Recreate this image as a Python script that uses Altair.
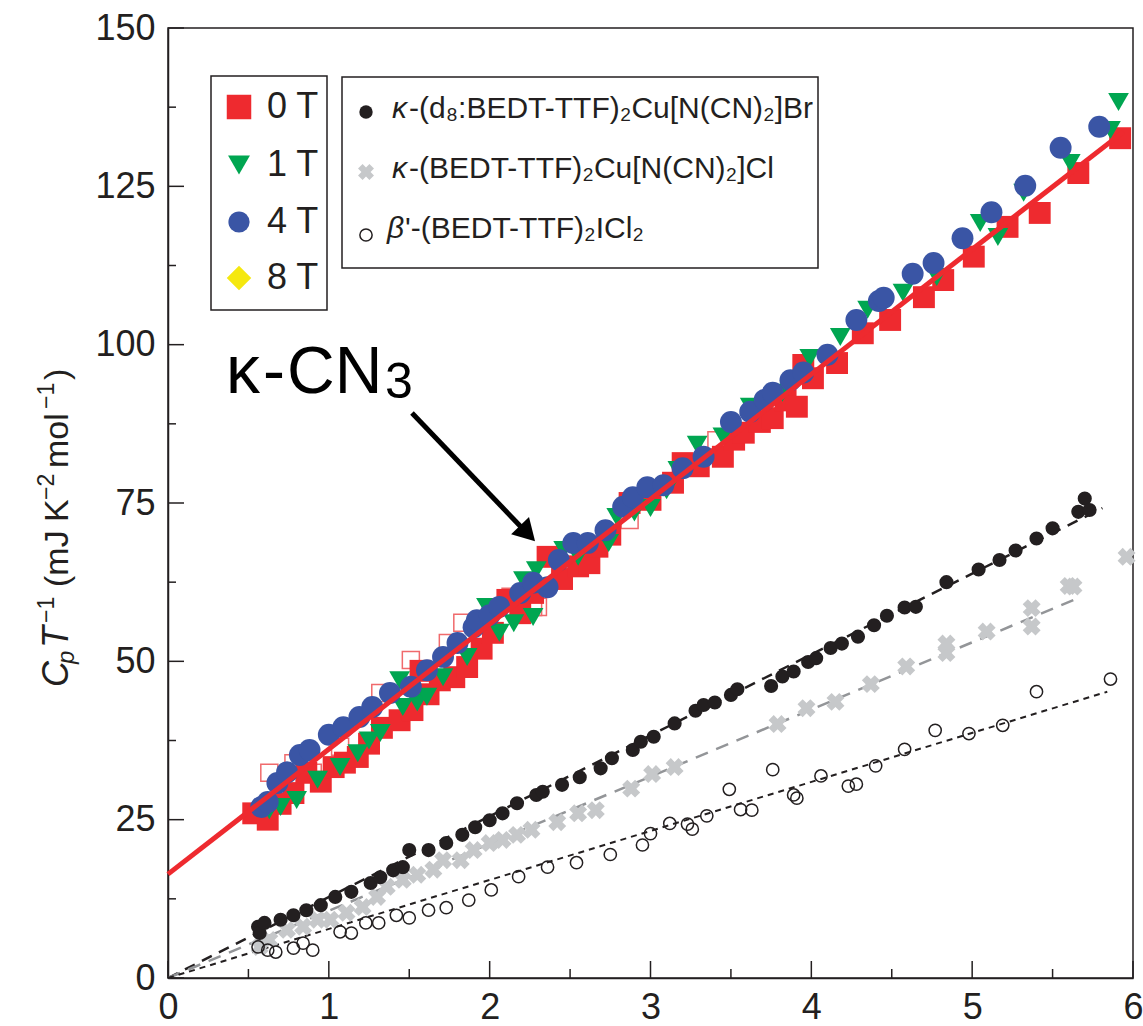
import altair as alt
import pandas as pd

# ---------------- data ----------------
# kappa-CN3, 0 T (filled red squares)
T0 = [(0.53, 26.0), (0.62, 25.0), (0.70, 27.5), (0.78, 29.2), (0.86, 32.4), (0.95, 31.0),
      (1.03, 33.3), (1.10, 34.0), (1.18, 34.9), (1.25, 37.0), (1.33, 39.5), (1.44, 40.7),
      (1.52, 42.3), (1.57, 48.5), (1.62, 44.8), (1.69, 47.0), (1.78, 47.5), (1.86, 49.1),
      (1.95, 52.0), (2.02, 54.5), (2.11, 59.7), (2.19, 57.6), (2.27, 60.8), (2.36, 66.5),
      (2.45, 63.0), (2.55, 65.0), (2.62, 65.5), (2.67, 68.1), (2.75, 70.0), (2.87, 75.0),
      (3.00, 75.5), (3.14, 78.2), (3.20, 81.3), (3.30, 80.8), (3.45, 82.3), (3.52, 85.0),
      (3.58, 86.1), (3.68, 87.8), (3.76, 88.4), (3.84, 91.2), (3.91, 90.2), (3.95, 96.8),
      (4.01, 94.7), (4.16, 97.1), (4.32, 101.8), (4.49, 103.9), (4.70, 107.5), (4.82, 110.2),
      (5.01, 113.9), (5.22, 118.6), (5.42, 120.8), (5.66, 127.1), (5.92, 132.6)]
# kappa-CN3, open red squares
T0_OPEN = [(0.63, 32.4), (0.78, 33.9), (0.90, 32.4), (1.07, 36.5), (1.32, 45.0), (1.51, 50.2),
           (1.74, 52.9), (1.83, 56.1), (2.13, 60.2), (2.27, 58.6), (2.30, 58.6), (2.87, 72.3),
           (3.41, 84.9)]
# kappa-CN3, 1 T (green down triangles)
T1 = [(0.63, 26.5), (0.70, 27.0), (0.80, 28.1), (0.93, 31.3), (1.07, 33.3), (1.18, 35.5),
      (1.25, 37.5), (1.32, 38.7), (1.44, 47.0), (1.46, 42.8), (1.55, 43.5), (1.61, 44.4),
      (1.71, 47.5), (1.86, 50.7), (1.98, 58.6), (2.06, 54.5), (2.15, 56.0), (2.21, 62.8),
      (2.27, 57.0), (2.29, 64.4), (2.46, 67.6), (2.55, 66.5), (2.74, 68.7), (2.79, 72.8),
      (2.90, 73.5), (3.00, 74.2), (3.10, 77.0), (3.17, 80.2), (3.29, 84.2), (3.45, 85.5),
      (3.62, 90.2), (3.82, 92.4), (3.99, 97.9), (4.18, 101.2), (4.35, 105.5), (4.57, 108.2),
      (4.78, 110.7), (5.05, 119.2), (5.16, 117.0), (5.32, 124.0), (5.61, 128.7), (5.86, 133.9),
      (5.91, 138.3)]
# kappa-CN3, 4 T (blue circles)
T4 = [(0.58, 27.0), (0.62, 27.8), (0.68, 30.8), (0.74, 32.5), (0.82, 35.2), (0.88, 36.0),
      (1.00, 38.4), (1.09, 39.6), (1.19, 41.2), (1.27, 42.8), (1.38, 45.0), (1.51, 46.0),
      (1.61, 48.6), (1.71, 50.7), (1.80, 52.9), (1.90, 55.4), (1.92, 56.5), (2.00, 57.3),
      (2.06, 58.6), (2.19, 60.8), (2.27, 62.4), (2.36, 61.7), (2.43, 66.0), (2.52, 68.7),
      (2.61, 68.7), (2.72, 70.7), (2.83, 74.4), (2.89, 75.9), (2.98, 77.5), (3.08, 77.8),
      (3.20, 80.5), (3.33, 82.3), (3.50, 87.8), (3.62, 89.4), (3.71, 91.3), (3.76, 92.4),
      (3.87, 94.4), (3.95, 95.6), (4.10, 98.4), (4.28, 103.9), (4.42, 106.9), (4.45, 107.4),
      (4.63, 111.2), (4.76, 112.9), (4.94, 116.8), (5.12, 120.9), (5.33, 125.1), (5.55, 131.1),
      (5.79, 134.4)]
# kappa-(d8:BEDT-TTF)2Cu[N(CN)2]Br (black filled circles)
BR = [(0.56, 8.1), (0.57, 7.1), (0.60, 8.7), (0.70, 9.2), (0.78, 9.9), (0.86, 10.7),
      (0.95, 11.5), (1.04, 12.8), (1.14, 13.6), (1.26, 15.0), (1.32, 15.9), (1.40, 17.0),
      (1.46, 17.5), (1.50, 20.2), (1.62, 20.2), (1.73, 21.3), (1.83, 22.6), (1.91, 23.8),
      (2.00, 24.9), (2.08, 26.0), (2.17, 27.6), (2.29, 28.9), (2.33, 29.4), (2.45, 30.5),
      (2.56, 31.7), (2.69, 33.1), (2.76, 34.7), (2.89, 36.0), (2.94, 37.3), (3.02, 38.1),
      (3.15, 40.2), (3.28, 42.2), (3.33, 43.1), (3.40, 43.5), (3.50, 44.7), (3.54, 45.6),
      (3.75, 46.1), (3.82, 47.6), (3.89, 48.4), (3.98, 49.9), (4.03, 50.5), (4.12, 52.1),
      (4.19, 52.8), (4.29, 53.9), (4.39, 55.7), (4.47, 57.2), (4.58, 58.5), (4.65, 58.6),
      (4.84, 62.5), (5.04, 64.5), (5.17, 66.0), (5.27, 67.5), (5.40, 69.4), (5.50, 71.0),
      (5.66, 73.6), (5.70, 75.7), (5.73, 73.9)]
# kappa-(BEDT-TTF)2Cu[N(CN)2]Cl (grey crosses)
CL = [(0.57, 4.9), (0.63, 6.0), (0.74, 7.6), (0.84, 8.1), (0.93, 9.2), (1.01, 9.2),
      (1.11, 10.3), (1.21, 11.2), (1.30, 12.8), (1.36, 14.4), (1.46, 15.5), (1.55, 16.3),
      (1.65, 17.1), (1.71, 18.6), (1.82, 18.6), (1.90, 20.2), (2.00, 21.3), (2.08, 21.8),
      (2.17, 22.6), (2.26, 23.4), (2.42, 24.6), (2.55, 26.0), (2.66, 26.5), (2.88, 29.9),
      (3.01, 32.2), (3.15, 33.3), (3.79, 40.1), (3.97, 42.6), (4.15, 43.6), (4.37, 46.4),
      (4.59, 49.2), (4.84, 51.3), (4.84, 52.8), (5.09, 54.7), (5.37, 55.5), (5.37, 58.4),
      (5.60, 61.9), (5.63, 61.8), (5.96, 66.5)]
# beta'-(BEDT-TTF)2ICl2 (open circles)
BETA = [(0.56, 4.9), (0.62, 4.4), (0.67, 4.1), (0.78, 4.7), (0.84, 5.5), (0.90, 4.4),
        (1.07, 7.3), (1.14, 7.1), (1.23, 8.7), (1.31, 8.7), (1.42, 9.9), (1.50, 9.5),
        (1.62, 10.7), (1.73, 11.1), (1.87, 12.3), (2.01, 13.9), (2.18, 16.0), (2.36, 17.5),
        (2.54, 18.2), (2.75, 19.5), (2.95, 21.0), (3.00, 22.8), (3.12, 24.4), (3.23, 24.3),
        (3.26, 23.5), (3.35, 25.6), (3.49, 29.8), (3.56, 26.6), (3.63, 26.5), (3.76, 32.9),
        (3.89, 28.9), (3.91, 28.4), (4.06, 31.9), (4.23, 30.3), (4.28, 30.6), (4.40, 33.5),
        (4.58, 36.1), (4.77, 39.1), (4.98, 38.6), (5.19, 39.9), (5.40, 45.2), (5.86, 47.2)]
# fitted lines (end points)
FIT_CN3 = [(0.0, 16.4), (5.94, 133.6)]
FIT_BR = [(0.0, 0.0), (5.81, 74.2)]
FIT_CL = [(0.0, 0.0), (5.66, 60.0)]
FIT_BETA = [(0.0, 0.0), (5.84, 45.2)]

X_MAJOR = [0, 1, 2, 3, 4, 5, 6]
X_MINOR = [0.5, 1.5, 2.5, 3.5, 4.5, 5.5]
Y_MAJOR = [0, 25, 50, 75, 100, 125, 150]
Y_MINOR = [12.5, 37.5, 62.5, 87.5, 112.5, 137.5]

FIELD_LABELS = ["0 T", "1 T", "4 T", "8 T"]
# y title "C_p T^-1 (mJ K^-2 mol^-1)" split into pieces: text, size, italic, baseline shift
Y_TITLE_PARTS = [("C", 36, True, 0), ("p", 24, True, 6), ("T", 36, True, 0),
                 ("−1", 23, False, -14), ("(mJ", 34, False, 0), ("K", 34, False, 0),
                 ("−2", 23, False, -14), ("mol", 34, False, 0), ("−1", 23, False, -14),
                 (")", 34, False, 0)]
# where each piece starts (screen y of its left end, text runs upwards)
Y_TITLE_START = [659, 636, 620, 595, 559, 494, 472, 440, 381, 352]

# arrow annotation (data coordinates): shaft start/end and head
ARROW = {"x0": 1.517, "y0": 89.2, "x1": 2.20, "y1": 71.1}
ARROW_HEAD = {"x": 2.22, "y": 70.6}

# ---------------- style ----------------
FONT = "Liberation Sans"
INK = "#231f20"
RED = "#ee2a2f"
GREEN = "#00a651"
BLUE = "#3a55a5"
YELLOW = "#f5e80f"
GREY_X = "#c6c8ca"
GREY_LINE = "#939598"
W, H = 965, 950

xs = alt.Scale(domain=[0, 6], nice=False, zero=False)
ys = alt.Scale(domain=[0, 150], nice=False, zero=False)
ONE = pd.DataFrame({"k": [0]})

x_axis = alt.Axis(values=X_MAJOR, format="d", title=None, grid=False, ticks=False,
                  labelFontSize=36, labelPadding=12, labelFlush=False,
                  labelOverlap=False, domainColor=INK, domainWidth=1.5,
                  labelColor=INK, labelFont=FONT)
y_axis = alt.Axis(values=Y_MAJOR, format="d", title=None, grid=False, ticks=False,
                  labelFontSize=36, labelPadding=13, labelOverlap=False,
                  domainColor=INK, domainWidth=1.5, labelColor=INK, labelFont=FONT)


def X(field):
    return alt.X(field, scale=xs, axis=x_axis)


def Y(field):
    return alt.Y(field, scale=ys, axis=y_axis)


def pts(pairs):
    return pd.DataFrame(pairs, columns=["T", "C"])


def scatter(data, **mk):
    mk.setdefault("opacity", 1)
    return alt.Chart(pts(data)).mark_point(**mk).encode(x=X("T:Q"), y=Y("C:Q"))


def fit(data, **mk):
    return alt.Chart(pts(data)).mark_line(**mk).encode(x=X("T:Q"), y=Y("C:Q"))


def text(s, x, y, size, style="normal", align="left", baseline="middle", color=INK,
         angle=0):
    return alt.Chart(ONE).mark_text(text=s, font=FONT, fontSize=size, fontStyle=style,
                                    align=align, baseline=baseline, color=color,
                                    angle=angle).encode(
        x=alt.value(x), y=alt.value(y))


def sym(x, y, **mk):
    mk.setdefault("opacity", 1)
    return alt.Chart(ONE).mark_point(**mk).encode(x=alt.value(x), y=alt.value(y))


def box(x, x2, y, y2):
    return alt.Chart(ONE).mark_rect(fill="white", stroke=INK, strokeWidth=1.5).encode(
        x=alt.value(x), x2=alt.value(x2), y=alt.value(y), y2=alt.value(y2))


def yticks(vals, length):
    return alt.Chart(pd.DataFrame({"v": vals})).mark_rule(color=INK, strokeWidth=1.5).encode(
        y=Y("v:Q"), x=alt.value(0), x2=alt.value(length))


def xticks(vals, length):
    return alt.Chart(pd.DataFrame({"v": vals})).mark_rule(color=INK, strokeWidth=1.5).encode(
        x=X("v:Q"), y=alt.value(H), y2=alt.value(H - length))


TITLE_BASE_X = -100  # baseline of rotated y-title, relative to the plot's left edge
title_layers = [
    text(s, TITLE_BASE_X + shift, y0, size, style="italic" if it else "normal",
         baseline="alphabetic", angle=270)
    for (s, size, it, shift), y0 in zip(Y_TITLE_PARTS, Y_TITLE_START)
]

layers = [
    # fitted dashed lines for reference salts
    fit(FIT_BR, color=INK, strokeWidth=2.5, strokeDash=[11, 8]),
    fit(FIT_CL, color=GREY_LINE, strokeWidth=2.5, strokeDash=[13, 9]),
    fit(FIT_BETA, color=INK, strokeWidth=2, strokeDash=[6, 5]),
    # reference salts
    scatter(CL, shape="cross", angle=45, filled=True, color=GREY_X, size=330),
    scatter(BETA, shape="circle", filled=False, color=INK, strokeWidth=1.5, size=150),
    scatter(BR, shape="circle", filled=True, color=INK, size=200),
    # kappa-CN3
    scatter(T0_OPEN, shape="square", filled=False, color="#f06a6c", strokeWidth=1.5, size=290),
    scatter(T0, shape="square", filled=True, color=RED, size=480),
    scatter(T1, shape="triangle-down", filled=True, color=GREEN, size=430),
    scatter(T4, shape="circle", filled=True, color=BLUE, size=480),
    fit(FIT_CN3, color=RED, strokeWidth=5),
    # arrow + label
    alt.Chart(pd.DataFrame([ARROW])).mark_rule(color="black", strokeWidth=5).encode(
        x=X("x0:Q"), y=Y("y0:Q"), x2="x1:Q", y2="y1:Q"),
    alt.Chart(pd.DataFrame([ARROW_HEAD])).mark_point(
        shape="triangle", angle=136, size=620, filled=True, color="black", opacity=1).encode(
        x=X("x:Q"), y=Y("y:Q")),
    text("κ", 58, 365, 68, baseline="alphabetic", color="black"),
    text("-", 95, 365, 66, baseline="alphabetic", color="black"),
    text("CN", 119, 365, 66, baseline="alphabetic", color="black"),
    text("3", 217, 370, 50, baseline="alphabetic", color="black"),
    # legend 1
    box(43, 159, 48, 282),
    sym(71, 79, shape="square", filled=True, color=RED, size=600),
    sym(71, 137, shape="triangle-down", filled=True, color=GREEN, size=480),
    sym(71, 194, shape="circle", filled=True, color=BLUE, size=450),
    sym(71, 250, shape="diamond", filled=True, color=YELLOW, size=600),
    text(FIELD_LABELS[0], 99, 79, 36),
    text(FIELD_LABELS[1], 99, 137, 36),
    text(FIELD_LABELS[2], 99, 194, 36),
    text(FIELD_LABELS[3], 99, 250, 36),
    # legend 2
    box(174, 650, 49, 240),
    sym(198, 84, shape="circle", filled=True, color=INK, size=180),
    sym(198, 144, shape="cross", angle=45, filled=True, color=GREY_X, size=260),
    sym(198, 207, shape="circle", filled=False, color=INK, strokeWidth=1.5, size=150),
    text("κ", 224, 81, 30, style="italic"),
    text("-(d₈:BEDT-TTF)₂Cu[N(CN)₂]Br", 241, 81, 30),
    text("κ", 224, 141, 30, style="italic"),
    text("-(BEDT-TTF)₂Cu[N(CN)₂]Cl", 241, 141, 30),
    text("β", 219, 201, 30, style="italic"),
    text("'-(BEDT-TTF)₂ICl₂", 237, 201, 30),
    # inward ticks
    yticks(Y_MAJOR, 16), yticks(Y_MINOR, 8),
    xticks(X_MAJOR, 17), xticks(X_MINOR, 9),
] + title_layers

chart = alt.layer(*layers).properties(
    width=W, height=H,
    padding={"left": 168, "top": 28, "right": 10, "bottom": 48},
    autosize=alt.AutoSizeParams(type="none"),
    background="white",
).configure_view(stroke=INK, strokeWidth=1.5)

chart.save("out.html", embed_options={"renderer": "svg", "actions": False})
